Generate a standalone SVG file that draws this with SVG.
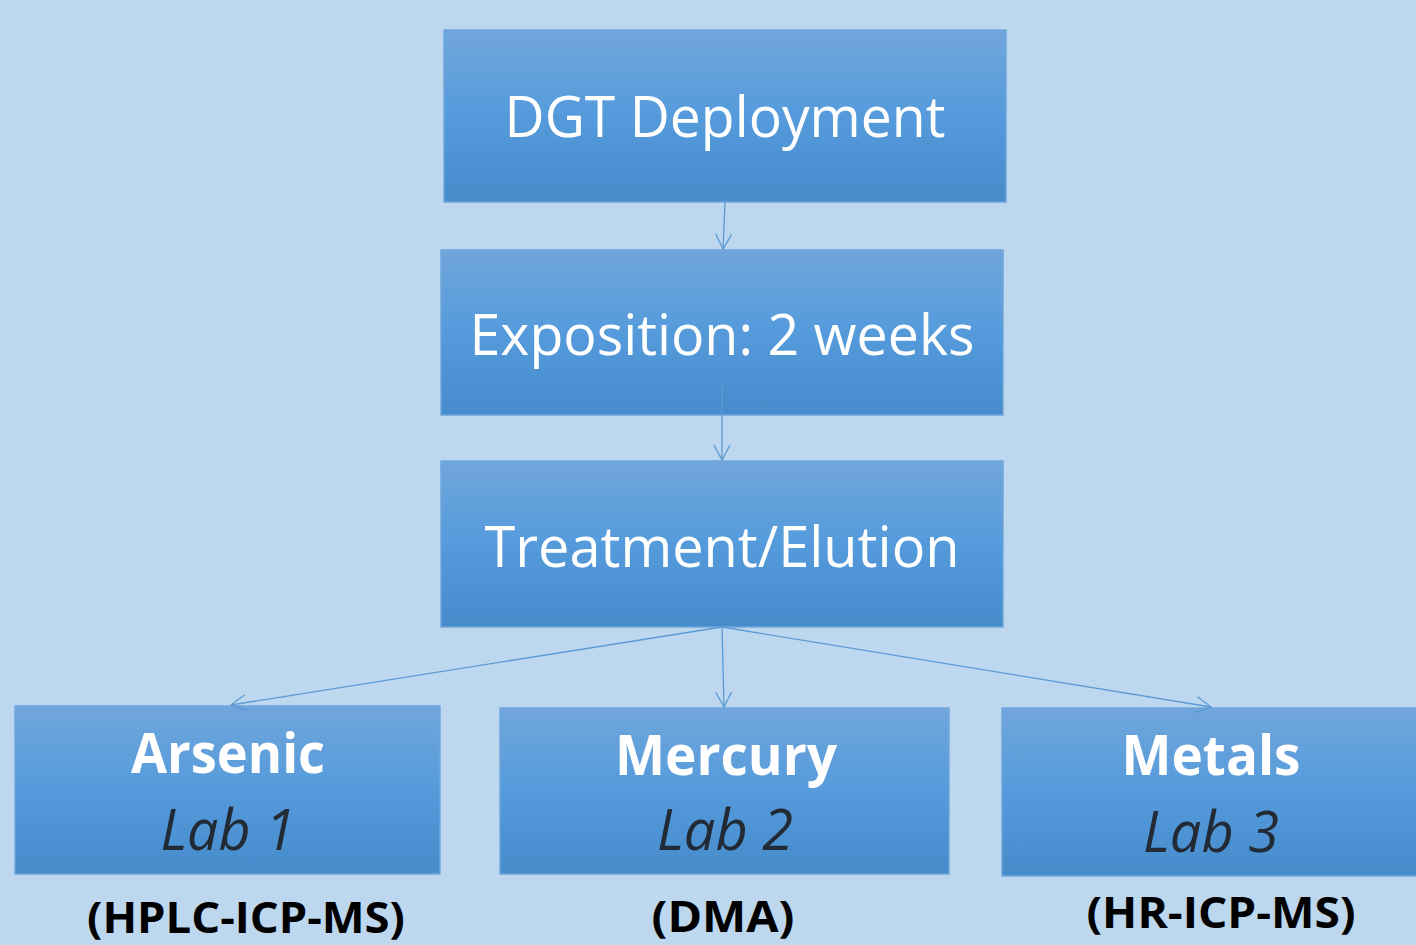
<svg xmlns="http://www.w3.org/2000/svg" width="1416" height="945" viewBox="0 0 1416 945">
<style>
.box{stroke:#6FA6DC;stroke-width:1.5;fill:url(#g)}
.main{font-family:"Open Sans","Noto Sans",sans-serif;font-size:56px;fill:#FFFFFF;text-anchor:middle}
.title{font-family:"Open Sans","Noto Sans",sans-serif;font-size:56px;font-weight:bold;fill:#FFFFFF;text-anchor:middle}
.lab{font-family:"Open Sans","Noto Sans",sans-serif;font-size:56px;font-style:italic;fill:#222A35;text-anchor:middle}
.meth{font-family:"Open Sans","Noto Sans",sans-serif;font-size:43px;font-weight:bold;fill:#000000;text-anchor:middle}
.conn{stroke:#5B9BD5;stroke-width:1.3;fill:none;marker-end:url(#arr)}
</style>
<defs>
<linearGradient id="g" x1="0" y1="0" x2="0" y2="1">
<stop offset="0" stop-color="#70A6DB"/>
<stop offset="0.5" stop-color="#559BDC"/>
<stop offset="1" stop-color="#468BCA"/>
</linearGradient>
<marker id="arr" markerUnits="userSpaceOnUse" markerWidth="20" markerHeight="20" refX="16" refY="9" orient="auto">
<path d="M1,1 L16,9 L1,17" fill="none" stroke="#5B9BD5" stroke-width="1.3"/>
</marker>
</defs>
<rect x="0" y="0" width="1416" height="945" fill="#BDD7EE"/>
<g id="n1">
<rect class="box" x="444" y="30" width="562" height="172"/>
<text class="main" x="725" y="137" textLength="441" lengthAdjust="spacingAndGlyphs">DGT Deployment</text>
</g>
<g id="n2">
<rect class="box" x="441" y="250" width="562" height="165"/>
<text class="main" x="722" y="355" textLength="505" lengthAdjust="spacingAndGlyphs">Exposition: 2 weeks</text>
</g>
<g id="n3">
<rect class="box" x="441" y="461" width="562" height="166"/>
<text class="main" x="722" y="567" textLength="475" lengthAdjust="spacingAndGlyphs">Treatment/Elution</text>
</g>
<g id="n4">
<rect class="box" x="15" y="706" width="425" height="168"/>
<text class="title" x="228" y="773" textLength="194" lengthAdjust="spacingAndGlyphs">Arsenic</text>
<text class="lab" x="228" y="850" textLength="135" lengthAdjust="spacingAndGlyphs">Lab 1</text>
</g>
<g id="n5">
<rect class="box" x="500" y="708" width="449" height="166"/>
<text class="title" x="726" y="775" textLength="222" lengthAdjust="spacingAndGlyphs">Mercury</text>
<text class="lab" x="725" y="850" textLength="136" lengthAdjust="spacingAndGlyphs">Lab 2</text>
</g>
<g id="n6">
<rect class="box" x="1002" y="708" width="430" height="168"/>
<text class="title" x="1211" y="775" textLength="179" lengthAdjust="spacingAndGlyphs">Metals</text>
<text class="lab" x="1211" y="852" textLength="136" lengthAdjust="spacingAndGlyphs">Lab 3</text>
</g>
<g id="connectors">
<line class="conn" x1="725" y1="202" x2="723" y2="249"/>
<line class="conn" x1="722" y1="380" x2="722" y2="460"/>
<line class="conn" x1="722" y1="627" x2="231" y2="705"/>
<line class="conn" x1="722" y1="627" x2="724" y2="707"/>
<line class="conn" x1="722" y1="627" x2="1211" y2="707"/>
</g>
<g id="methods">
<text class="meth" x="246" y="933" textLength="318" lengthAdjust="spacingAndGlyphs">(HPLC-ICP-MS)</text>
<text class="meth" x="723" y="932" textLength="143" lengthAdjust="spacingAndGlyphs">(DMA)</text>
<text class="meth" x="1221" y="928" textLength="269" lengthAdjust="spacingAndGlyphs">(HR-ICP-MS)</text>
</g>
</svg>
